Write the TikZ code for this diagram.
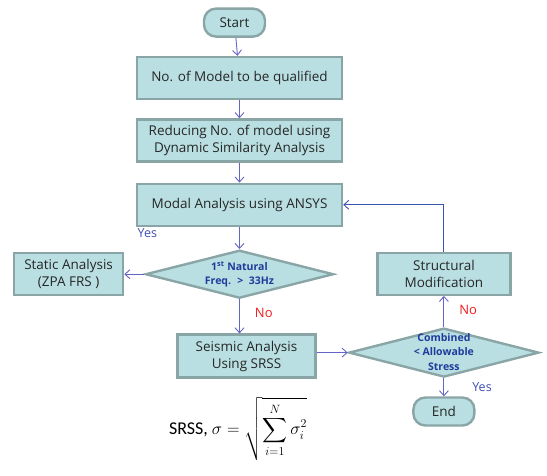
\documentclass[tikz,border=0pt]{standalone}
\usepackage{fontspec}
\setmainfont{Open Sans}
\newfontfamily\formulafont{Carlito}
\usepackage{amsmath}
\usetikzlibrary{shapes.geometric, arrows.meta, positioning}
\definecolor{boxfill}{HTML}{B9DFE2}
\definecolor{boxline}{HTML}{8AA5A6}
\definecolor{flowline}{HTML}{6464C4}
\definecolor{backline}{HTML}{3A55B0}
\definecolor{qtext}{HTML}{1F3C9C}
\definecolor{yestext}{HTML}{3F4FB5}
\definecolor{notext}{HTML}{F21C1C}
\definecolor{darktext}{HTML}{262626}
% question text that does not stretch the diamond
\newcommand{\questiontext}[1]{\smash{\raisebox{-3pt}{\begin{tabular}{@{}c@{}}#1\end{tabular}}}}
\tikzset{
  terminal/.style={
    rectangle, rounded corners=12pt,
    minimum width=61pt, minimum height=28pt,
    text centered, draw=boxline, line width=2.4pt,
    fill=boxfill, font=\fontsize{13.5}{15}\selectfont, text=darktext,
  },
  process/.style={
    rectangle, align=center,
    minimum width=205pt, minimum height=42pt,
    draw=boxline, line width=2.4pt, inner sep=2pt,
    fill=boxfill, font=\fontsize{13.5}{17}\selectfont, text=darktext,
  },
  decision/.style={
    diamond, aspect=3.8, inner sep=0pt,
    minimum width=188pt, minimum height=48pt,
    draw=boxline, line width=2.4pt,
    fill=boxfill, font=\fontsize{10.5}{14.5}\selectfont\bfseries, text=qtext,
  },
  arrow/.style={-{Straight Barb[length=5pt, width=9pt]}, line width=0.9pt, color=flowline},
  yes/.style={font=\fontsize{12.5}{14}\selectfont, text=yestext, inner sep=1pt},
  no/.style={font=\fontsize{13}{15}\selectfont, text=notext, inner sep=1pt},
}

\begin{document}
\begin{tikzpicture}[x=1pt, y=-1pt]

  \useasboundingbox (0,0) rectangle (547,475);

  \node[process] (model) at (239.5,78) {No. of Model to be qualified};
  \node[terminal, above=18pt of model, xshift=-5pt] (start) {Start};
  \node[process, below=18pt of model] (reduce) {Reducing No. of model using\\Dynamic Similarity Analysis};
  \node[process, below=20pt of reduce] (modal) {Modal Analysis using ANSYS};
  \node[decision, below=22pt of modal] (d1) {\questiontext{1\textsuperscript{st} Natural\\Freq. \ >\ \ 33Hz}};
  \node[process, minimum width=109pt, left=20pt of d1] (static) {Static Analysis\\(ZPA FRS )};
  \node[process, minimum width=138pt, minimum height=43pt, below=34pt of d1, xshift=7pt] (seismic) {Seismic Analysis\\Using SRSS};
  \node[decision, minimum width=190pt, minimum height=49pt, right=31pt of seismic, yshift=3.5pt] (d2) {\questiontext{Combined\\< Allowable\\Stress}};
  \node[process, minimum width=133pt, above=31pt of d2] (modify) {Structural\\Modification};
  \node[terminal, below=18pt of d2] (stop) {End};
  \node[font=\formulafont\fontsize{18}{20}\selectfont, text=black] (srss) at (238,429)
    {SRSS, $\sigma = \sqrt{\displaystyle\sum_{i=1}^{N}\sigma_i^2}$};

  \draw[arrow] (start) -- (model);
  \draw[arrow] (model) -- (reduce);
  \draw[arrow] (reduce) -- (modal);
  \draw[arrow] (modal) -- (d1);
  \draw[arrow] (d1.west) node[yes, above=35pt, xshift=3pt]{Yes} -- (static.east);
  \draw[arrow] (d1.south) -- node[no, right=14pt, pos=0.4]{No} (d1.south |- seismic.north);
  \draw[arrow] (seismic.east |- d2) -- (d2.west);
  \draw[arrow] (d2.north) -- node[no, right=14pt, pos=0.55]{No} (modify.south);
  \draw[arrow] (d2.south) -- node[yes, right=27pt]{Yes} (stop.north);
  \draw[arrow, color=backline] (modify.north) |- (modal.east);

\end{tikzpicture}
\end{document}
